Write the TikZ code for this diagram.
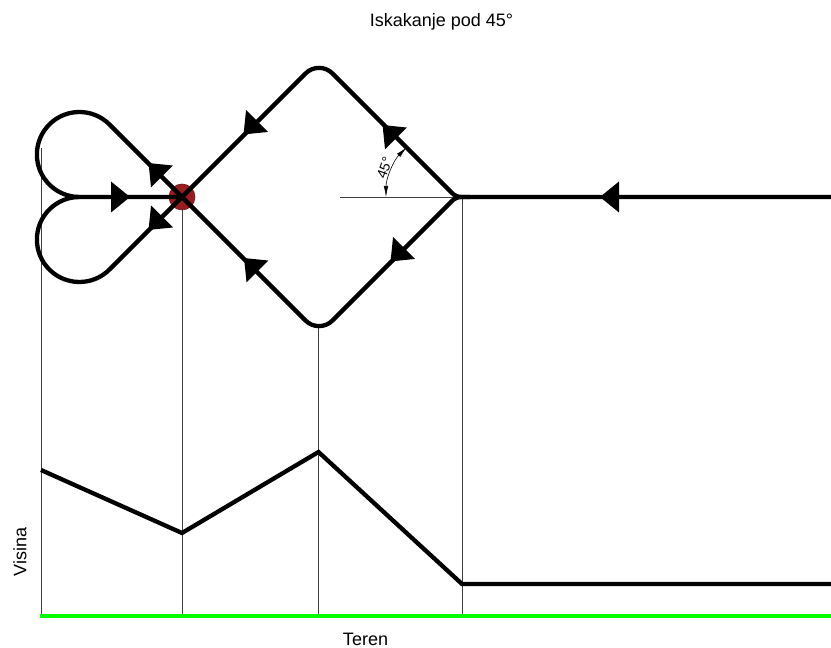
\documentclass[tikz,border=0pt]{standalone}
\usepackage{fontspec}
\setmainfont{Liberation Sans}
\usetikzlibrary{arrows.meta}
\definecolor{marker}{HTML}{9B1C20}
\definecolor{terrain}{HTML}{00FF00}
\newcommand{\flightarrow}[3]{\fill[shift={(#1,#2)},rotate=#3] (0,-15.5)--(19,0)--(0,15.5)--cycle;}
\tikzset{
  flight/.style={line width=4.3pt,black,line join=round},
  guide/.style={line width=0.7pt,black!75},
  label/.style={font=\fontsize{18}{20}\selectfont,inner sep=0pt},
}
\begin{document}
\begin{tikzpicture}[x=1pt,y=1pt]
\useasboundingbox (0,0) rectangle (831,648);
\fill[white] (0,0) rectangle (831,648);
% guides
\draw[guide] (41,500) -- (41,33);
\draw[guide] (182,451) -- (182,33);
\draw[guide] (318.5,322) -- (318.5,33);
\draw[guide] (462,451) -- (462,33);
\draw[guide] (340,451) -- (456,451);
% marker
\fill[marker,draw=marker!70!black,line width=0.6pt] (182,451) circle (13);
% flight path
\draw[flight,rounded corners=5pt] (831,451) -- (456,451)
  [rounded corners=19pt] -- (319,588) [sharp corners] -- (182,451) -- (109.45,378.45)
  arc[start angle=-45,end angle=-270,radius=42.5] -- (182,451);
\draw[flight,rounded corners=5pt] (470,451) -- (456,451)
  [rounded corners=19pt] -- (319,314) [sharp corners] -- (182,451) -- (109.45,523.55)
  arc[start angle=45,end angle=270,radius=42.5];
% arrowheads
\flightarrow{111}{451}{0}
\flightarrow{619}{451}{180}
\flightarrow{162}{471.5}{135}
\flightarrow{162}{431.5}{225}
\flightarrow{257}{527}{225}
\flightarrow{396}{509.5}{135}
\flightarrow{404}{400}{225}
\flightarrow{257.5}{376.5}{135}
% angle
\draw[line width=0.6pt,{Latex[length=11pt,width=4.5pt]}-{Latex[length=11pt,width=4.5pt]}]
  (386,451) arc[start angle=180,end angle=135,radius=70];
\node[font=\fontsize{14}{16}\selectfont,inner sep=0pt,rotate=70] (angle) at (384.5,480) {45°};
% height profile
\draw[flight,line join=miter] (41,178) -- (182,115) -- (318.5,196) -- (462,64) -- (831,64);
% terrain
\draw[terrain,line width=4pt] (40,32) -- (831,32);
% labels
\node[label] (title) at (441.5,626) {Iskakanje pod 45°};
\node[label,rotate=90] (height) at (20,96) {Visina};
\node[label] (ground) at (365.5,8.5) {Teren};
\end{tikzpicture}
\end{document}
